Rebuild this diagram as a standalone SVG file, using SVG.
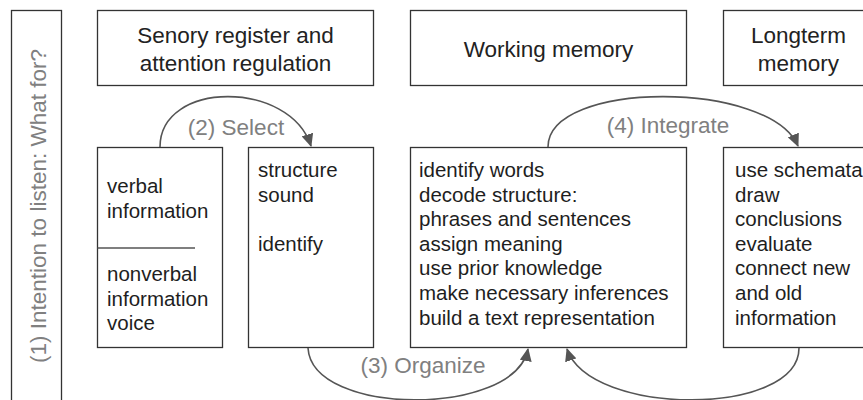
<svg xmlns="http://www.w3.org/2000/svg" width="863" height="400" viewBox="0 0 863 400">
<style>
.box{fill:#fff;stroke:#333;stroke-width:1.3}
.h{font-family:"Liberation Sans",Arial,sans-serif;font-size:22.5px;fill:#222;text-anchor:middle}
.b{font-family:"Liberation Sans",Arial,sans-serif;font-size:20.5px;fill:#1e1e1e}
.lbl{font-family:"Liberation Sans",Arial,sans-serif;font-size:22.5px;fill:#808080;text-anchor:middle}
.c{fill:none;stroke:#555;stroke-width:1.6}
</style>
<defs>
<marker id="ah" markerUnits="userSpaceOnUse" markerWidth="14" markerHeight="12" refX="12" refY="6" orient="auto">
<path d="M0,0 L13,6 L0,12 Z" fill="#555"/>
</marker>
</defs>
<g id="intention">
<rect class="box" x="11.5" y="10.5" width="50" height="400"/>
<text class="lbl" transform="translate(46,206) rotate(-90)">(1) Intention to listen: What for?</text>
</g>
<g id="sensory-header">
<rect class="box" x="97.5" y="10.5" width="276" height="75"/>
<text class="h" x="235.5" y="43">Senory register and</text>
<text class="h" x="235.5" y="70.5">attention regulation</text>
</g>
<g id="working-header">
<rect class="box" x="410.5" y="10.5" width="276" height="75"/>
<text class="h" x="548.5" y="57">Working memory</text>
</g>
<g id="longterm-header">
<rect class="box" x="723.5" y="10.5" width="151" height="75"/>
<text class="h" x="798.5" y="43">Longterm</text>
<text class="h" x="798.5" y="70.5">memory</text>
</g>
<g id="information">
<rect class="box" x="97.5" y="147.5" width="125" height="200"/>
<line x1="97.5" y1="248" x2="195" y2="248" stroke="#555" stroke-width="1.3"/>
<text class="b" x="107" y="193">verbal</text>
<text class="b" x="107" y="217.5">information</text>
<text class="b" x="107" y="281">nonverbal</text>
<text class="b" x="107" y="305.5">information</text>
<text class="b" x="107" y="330">voice</text>
</g>
<g id="select-box">
<rect class="box" x="248.5" y="147.5" width="125" height="200"/>
<text class="b" x="258" y="177">structure</text>
<text class="b" x="258" y="201.6">sound</text>
<text class="b" x="258" y="250.8">identify</text>
</g>
<g id="working-box">
<rect class="box" x="410.5" y="147.5" width="276" height="200"/>
<text class="b" x="419" y="177">identify words</text>
<text class="b" x="419" y="201.6">decode structure:</text>
<text class="b" x="419" y="226.2">phrases and sentences</text>
<text class="b" x="419" y="250.8">assign meaning</text>
<text class="b" x="419" y="275.4">use prior knowledge</text>
<text class="b" x="419" y="300">make necessary inferences</text>
<text class="b" x="419" y="324.6">build a text representation</text>
</g>
<g id="longterm-box">
<rect class="box" x="723.5" y="147.5" width="151" height="200"/>
<text class="b" x="735" y="177">use schemata</text>
<text class="b" x="735" y="201.6">draw</text>
<text class="b" x="735" y="226.2">conclusions</text>
<text class="b" x="735" y="250.8">evaluate</text>
<text class="b" x="735" y="275.4">connect new</text>
<text class="b" x="735" y="300">and old</text>
<text class="b" x="735" y="324.6">information</text>
</g>
<g id="connectors">
<path class="c" d="M160,147 C160,80 290,80 311,146" marker-end="url(#ah)"/>
<text class="lbl" x="236" y="135">(2) Select</text>
<path class="c" d="M548,147 C548,80 770,80 798,146" marker-end="url(#ah)"/>
<text class="lbl" x="668" y="133">(4) Integrate</text>
<path class="c" d="M308,348 C312,417 515,417 528,349" marker-end="url(#ah)"/>
<text class="lbl" x="423" y="373">(3) Organize</text>
<path class="c" d="M799,348 C799,417 590,417 567,349" marker-end="url(#ah)"/>
</g>
</svg>
